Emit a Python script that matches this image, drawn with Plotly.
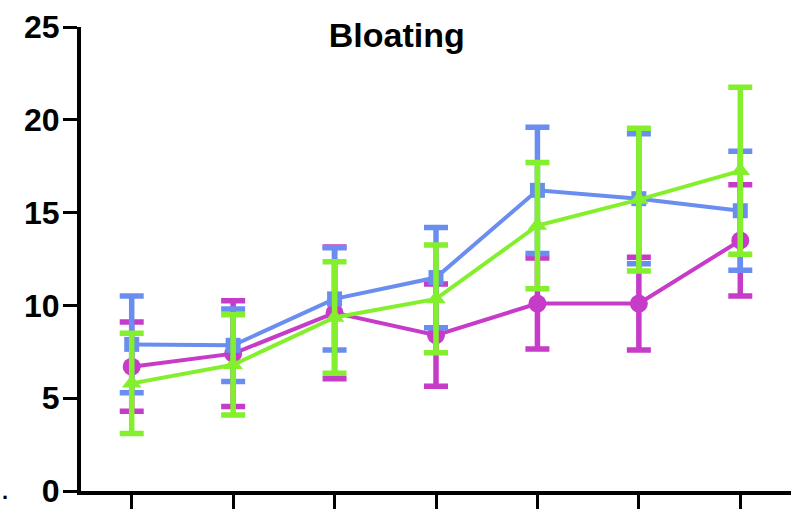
import plotly.graph_objects as go

# Time points (unlabelled on the x axis)
timepoints = [1, 2, 3, 4, 5, 6, 7]

# Bloating scores: mean and error per group
blue_mean = [7.9, 7.85, 10.35, 11.5, 16.2, 15.75, 15.1]
blue_err = [2.6, 1.95, 2.75, 2.7, 3.4, 3.5, 3.2]

magenta_mean = [6.7, 7.4, 9.6, 8.4, 10.1, 10.1, 13.5]
magenta_err = [2.4, 2.85, 3.55, 2.75, 2.45, 2.5, 3.0]

green_mean = [5.8, 6.8, 9.35, 10.35, 14.3, 15.7, 17.25]
green_err = [2.7, 2.7, 3.0, 2.9, 3.4, 3.85, 4.5]

y_ticks = [0, 5, 10, 15, 20, 25]

BLUE = "#6A8EF0"
MAGENTA = "#C63CC8"
GREEN = "#84EF2C"


def series(y, err, color, symbol, size):
    return go.Scatter(
        x=timepoints,
        y=y,
        mode="lines+markers",
        line=dict(color=color, width=4),
        marker=dict(color=color, symbol=symbol, size=size, line=dict(width=0)),
        error_y=dict(type="data", array=err, visible=True,
                     color=color, thickness=5.5, width=12),
        showlegend=False,
        hoverinfo="skip",
    )


fig = go.Figure()
fig.add_trace(series(magenta_mean, magenta_err, MAGENTA, "circle", 18))
fig.add_trace(series(blue_mean, blue_err, BLUE, "square", 15))
fig.add_trace(series(green_mean, green_err, GREEN, "triangle-up", 17))

fig.update_layout(
    width=800,
    height=518,
    margin=dict(l=81, r=9, t=22, b=26),
    paper_bgcolor="white",
    plot_bgcolor="white",
    font=dict(family="Liberation Sans, Arial, sans-serif", color="black"),
    title=dict(
        text="<b>Bloating</b>",
        x=0.496, xref="container", xanchor="center",
        y=1 - 35 / 518, yref="container", yanchor="middle",
        font=dict(size=34, color="black"),
    ),
)

fig.update_xaxes(
    range=[0.5, 7.5],
    tickvals=timepoints,
    showticklabels=False,
    ticks="outside",
    ticklen=14,
    tickwidth=3,
    tickcolor="black",
    showline=True,
    linewidth=4,
    linecolor="black",
    showgrid=False,
    zeroline=False,
)

fig.update_yaxes(
    range=[0, 25],
    tickvals=y_ticks,
    ticktext=[f"<b>{v}</b>" for v in y_ticks],
    ticks="outside",
    ticklen=14,
    tickwidth=3,
    tickcolor="black",
    tickfont=dict(size=32, color="black"),
    ticklabelstandoff=-3,
    showline=True,
    linewidth=4,
    linecolor="black",
    showgrid=False,
    zeroline=False,
)

fig.add_annotation(
    text="<b>.</b>", xref="paper", yref="paper",
    x=-0.107, y=0.0, xanchor="center", yanchor="middle",
    showarrow=False, font=dict(size=22, color="black"),
)

fig.write_html("out.html")
